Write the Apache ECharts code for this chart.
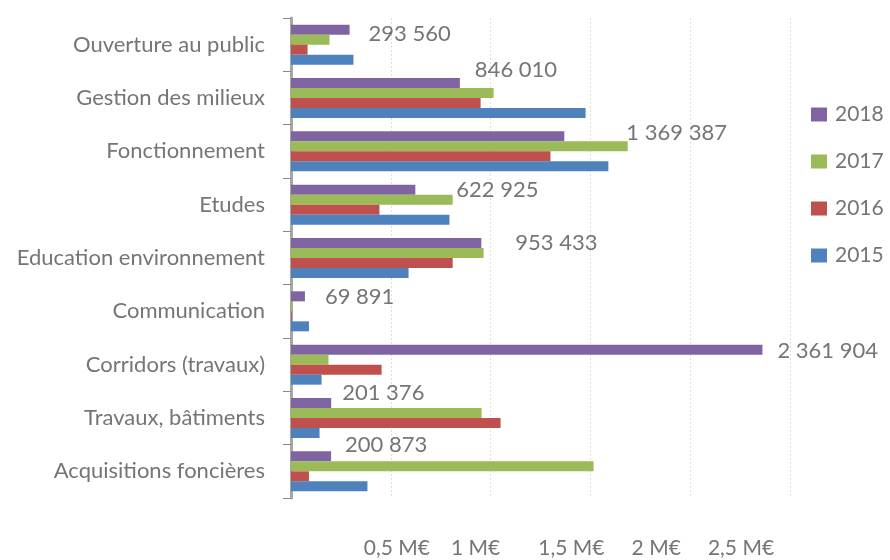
<!DOCTYPE html>
<html>
<head>
<meta charset="utf-8">
<script src="https://cdn.jsdelivr.net/npm/echarts@6/dist/echarts.min.js"></script>
<style>html,body{margin:0;padding:0;background:#fff}#c{width:890px;height:560px}</style>
</head>
<body>
<div id="c"></div>
<script>
var categories = ['Ouverture au public','Gestion des milieux','Fonctionnement','Etudes','Education environnement','Communication','Corridors (travaux)','Travaux, bâtiments','Acquisitions foncières'];
var years = ['2018','2017','2016','2015'];
var v2018 = [293560, 846010, 1369387, 622925, 953433, 69891, 2361904, 201376, 200873];
var v2017 = [193000, 1015000, 1687000, 810000, 965000, 8000, 188000, 955000, 1516000];
var v2016 = [83000, 950000, 1300000, 443000, 810000, 4000, 454000, 1050000, 90000];
var v2015 = [313000, 1476000, 1590000, 794000, 589000, 90000, 153000, 143000, 383000];
var tickLabels = {500000:'0,5 M€',1000000:'1 M€',1500000:'1,5 M€',2000000:'2 M€',2500000:'2,5 M€'};

// label placement tweaks (style only)
var labelOffsets = [[19,4],[15,-13],[62,-3],[41,0],[34,0],[20,1],[15,1],[11,-10],[14,-11]];
var tickShift = {500000:'p0',1000000:'p1',1500000:'p2',2000000:'p3',2500000:'p4'};

function fmt(n){ return String(n).replace(/\B(?=(\d{3})+(?!\d))/g,' '); }

var colors = {'2018':'#8064a2','2017':'#9bbb59','2016':'#c0504d','2015':'#4f81bd'};
var valuesByYear = {'2018':v2018,'2017':v2017,'2016':v2016,'2015':v2015};
var FONT = 'Lato';
var GRAY = '#757575';

var series = years.map(function(y){
  var s = {
    name: y, type: 'bar', barGap: '0%', barCategoryGap: '25%',
    itemStyle: {color: colors[y]},
    data: valuesByYear[y].slice()
  };
  if (y === '2018') {
    s.data = v2018.map(function(v,i){
      return {value: v, label: {show: true, position: 'right', distance: 0,
        offset: labelOffsets[i], formatter: function(p){return fmt(p.value);},
        color: GRAY, fontSize: 22, fontFamily: FONT}};
    });
  }
  return s;
});

var chart = echarts.init(document.getElementById('c'));
chart.setOption({
  animation: false,
  textStyle: {fontFamily: FONT},
  grid: {left: 291, right: 100, top: 18, bottom: 62},
  legend: {
    orient: 'vertical', left: 806, top: 99, itemWidth: 16, itemHeight: 14, itemGap: 26,
    icon: 'rect', data: years,
    textStyle: {color: GRAY, fontSize: 21, fontFamily: FONT, lineHeight: 21, padding: [0,0,0,3]}
  },
  xAxis: {
    type: 'value', min: 0, max: 2500000, interval: 500000,
    axisLine: {show: false}, axisTick: {show: false},
    splitLine: {show: true, lineStyle: {color: '#dedede', type: [2,2], width: 1}},
    axisLabel: {
      margin: 40, color: GRAY, fontSize: 21, fontFamily: FONT,
      formatter: function(v){ return tickLabels[v] ? '{' + tickShift[v] + '|' + tickLabels[v] + '}' : ''; },
      rich: {
        p0: {padding: [0,0,0,12], fontSize: 21, color: GRAY, fontFamily: FONT},
        p1: {padding: [0,30,0,0], fontSize: 21, color: GRAY, fontFamily: FONT},
        p2: {padding: [0,38,0,0], fontSize: 21, color: GRAY, fontFamily: FONT},
        p3: {padding: [0,68,0,0], fontSize: 21, color: GRAY, fontFamily: FONT},
        p4: {padding: [0,98,0,0], fontSize: 21, color: GRAY, fontFamily: FONT}
      }
    }
  },
  yAxis: {
    type: 'category', data: categories, inverse: true, offset: 3,
    axisLine: {show: true, lineStyle: {color: '#a6a6a6', width: 3}},
    axisTick: {show: true, length: 8, lineStyle: {color: '#8a8a8a', width: 1}},
    axisLabel: {margin: 23, color: GRAY, fontSize: 22, fontFamily: FONT, padding: [8,0,0,0]}
  },
  series: series
});
</script>
</body>
</html>
